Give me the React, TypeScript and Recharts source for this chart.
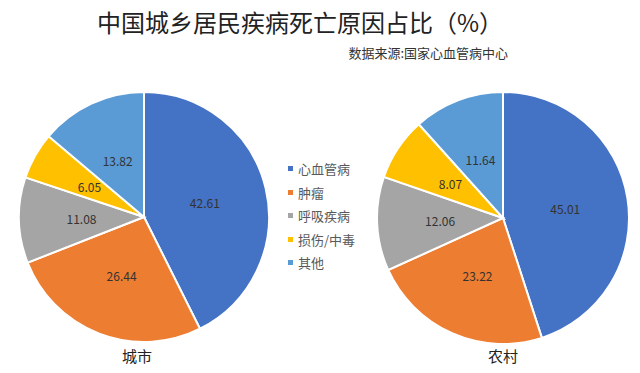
import { Legend, Pie, PieChart } from "recharts";

const CATEGORIES = ["心血管病", "肿瘤", "呼吸疾病", "损伤/中毒", "其他"];
const URBAN = [42.61, 26.44, 11.08, 6.05, 13.82];
const RURAL = [45.01, 23.22, 12.06, 8.07, 11.64];
const COLORS = ["#4472C4", "#ED7D31", "#A5A5A5", "#FFC000", "#5B9BD5"];

const urbanData = CATEGORIES.map((name, i) => ({ name, value: URBAN[i], fill: COLORS[i] }));
const ruralData = CATEGORIES.map((name, i) => ({ name, value: RURAL[i], fill: COLORS[i] }));

const FONT = '"Noto Sans CJK SC", "Noto Sans", sans-serif';
const RADIAN = Math.PI / 180;

const renderLabel = (props: any) => {
  const { cx, cy, midAngle, outerRadius, value } = props;
  const r = outerRadius * 0.5;
  const x = cx + r * Math.cos(-midAngle * RADIAN);
  const y = cy + r * Math.sin(-midAngle * RADIAN);
  return (
    <text
      x={x}
      y={y}
      fill="#333"
      fontSize={12}
      fontFamily={FONT}
      textAnchor="middle"
      dominantBaseline="central"
    >
      {value.toFixed(2)}
    </text>
  );
};

function LegendBox() {
  return (
    <div style={{ fontFamily: FONT, fontSize: 13, color: "#595959" }}>
      {CATEGORIES.map((c, i) => (
        <div key={c} style={{ display: "flex", alignItems: "center", height: 23.5 }}>
          <span
            style={{
              width: 5,
              height: 5,
              background: COLORS[i],
              marginRight: 5,
              display: "inline-block",
            }}
          />
          {c}
        </div>
      ))}
    </div>
  );
}

export default function App() {
  return (
    <div
      style={{
        position: "absolute",
        left: 0,
        top: 0,
        width: 640,
        height: 373,
        background: "#fff",
        fontFamily: FONT,
      }}
    >
      <div
        style={{
          position: "absolute",
          left: 97,
          top: 5,
          fontSize: 24,
          color: "#222",
          whiteSpace: "nowrap",
          lineHeight: "34px",
        }}
      >
        中国城乡居民疾病死亡原因占比（%）
      </div>
      <div
        style={{
          position: "absolute",
          right: 132,
          top: 44,
          fontSize: 13,
          color: "#333",
          whiteSpace: "nowrap",
          lineHeight: "18px",
        }}
      >
        数据来源:国家心血管病中心
      </div>
      <PieChart width={640} height={373}>
        <Pie
          data={urbanData}
          dataKey="value"
          nameKey="name"
          cx={139}
          cy={212}
          outerRadius={125}
          startAngle={90}
          endAngle={-270}
          stroke="#fff"
          strokeWidth={2}
          label={renderLabel}
          labelLine={false}
          isAnimationActive={false}
        />
        <Pie
          data={ruralData}
          dataKey="value"
          nameKey="name"
          cx={498}
          cy={213}
          outerRadius={126}
          startAngle={90}
          endAngle={-270}
          stroke="#fff"
          strokeWidth={2}
          label={renderLabel}
          labelLine={false}
          isAnimationActive={false}
        />
        <Legend
          content={() => <LegendBox />}
          wrapperStyle={{ left: 288, top: 157, width: 90 }}
        />
      </PieChart>
      <div
        style={{
          position: "absolute",
          left: 137,
          top: 346,
          transform: "translateX(-50%)",
          fontSize: 15,
          color: "#222",
          lineHeight: "20px",
        }}
      >
        城市
      </div>
      <div
        style={{
          position: "absolute",
          left: 503,
          top: 346,
          transform: "translateX(-50%)",
          fontSize: 15,
          color: "#222",
          lineHeight: "20px",
        }}
      >
        农村
      </div>
    </div>
  );
}
